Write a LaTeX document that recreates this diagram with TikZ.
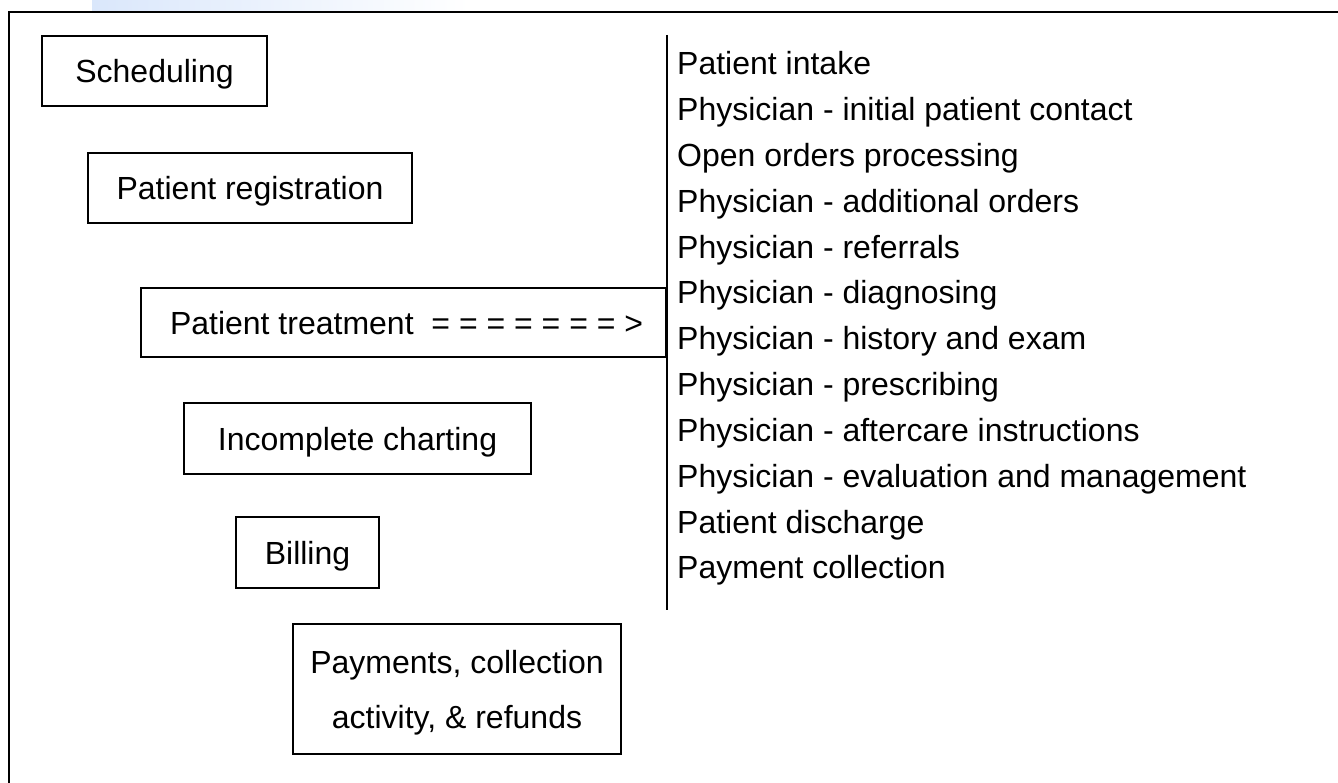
\documentclass[tikz,border=0pt]{standalone}
\usepackage{fontspec}
\setmainfont{Liberation Sans}
\begin{document}
\begin{tikzpicture}[x=1pt,y=-1pt,
  box/.style={draw=black,line width=1.9pt,inner sep=0pt,align=center,text depth=0pt,
    font=\fontsize{32}{55}\selectfont},
  bigbox/.style={draw=black,line width=2.8pt,inner ysep=0pt,inner xsep=29pt,text depth=0pt,
    font=\fontsize{32}{38}\selectfont},
  item/.style={anchor=base west,inner sep=0pt,font=\fontsize{32}{38}\selectfont}]
\useasboundingbox (0,0) rectangle (1338,783);
% header band
\shade[left color={rgb,255:red,218;green,231;blue,251},right color=white,draw=none]
  (92,0) rectangle (470,11);
% frame (open, left and top)
\coordinate (fbl) at (9,783);
\coordinate (ftl) at (9,12);
\coordinate (ftr) at (1338,12);
\draw[line width=2.2pt] (fbl) -- (ftl) -- (ftr);
% left boxes
\node[box,minimum width=225pt,minimum height=70pt] (sched) at (154.5,71) {Scheduling};
\node[box,minimum width=324pt,minimum height=70pt] (reg) at (250,188) {Patient registration};
\node[bigbox,minimum width=525pt,minimum height=69pt] (treat) at (403.5,322.5)
  {\makebox[467pt][l]{Patient treatment\ \ = = = = = = = >}};
\node[box,minimum width=347pt,minimum height=71pt] (chart) at (357.5,438.5) {Incomplete charting};
\node[box,minimum width=143pt,minimum height=71pt] (bill) at (307.5,552.5) {Billing};
\node[box,minimum width=328pt,minimum height=130pt] (pay) at (457,689)
  {Payments, collection\\activity, \& refunds};
% vertical divider
\coordinate (vtop) at (667,35);
\coordinate (vbot) at (667,610);
\draw[line width=2.6pt] (vtop) -- (vbot);
% list
\foreach \t [count=\i] in {Patient intake,
  Physician - initial patient contact,
  Open orders processing,
  Physician - additional orders,
  Physician - referrals,
  Physician - diagnosing,
  Physician - history and exam,
  Physician - prescribing,
  Physician - aftercare instructions,
  Physician - evaluation and management,
  Patient discharge,
  Payment collection}
  \node[item] (l\i) at (677,{75+45.8*(\i-1)}) {\t};
\end{tikzpicture}
\end{document}
